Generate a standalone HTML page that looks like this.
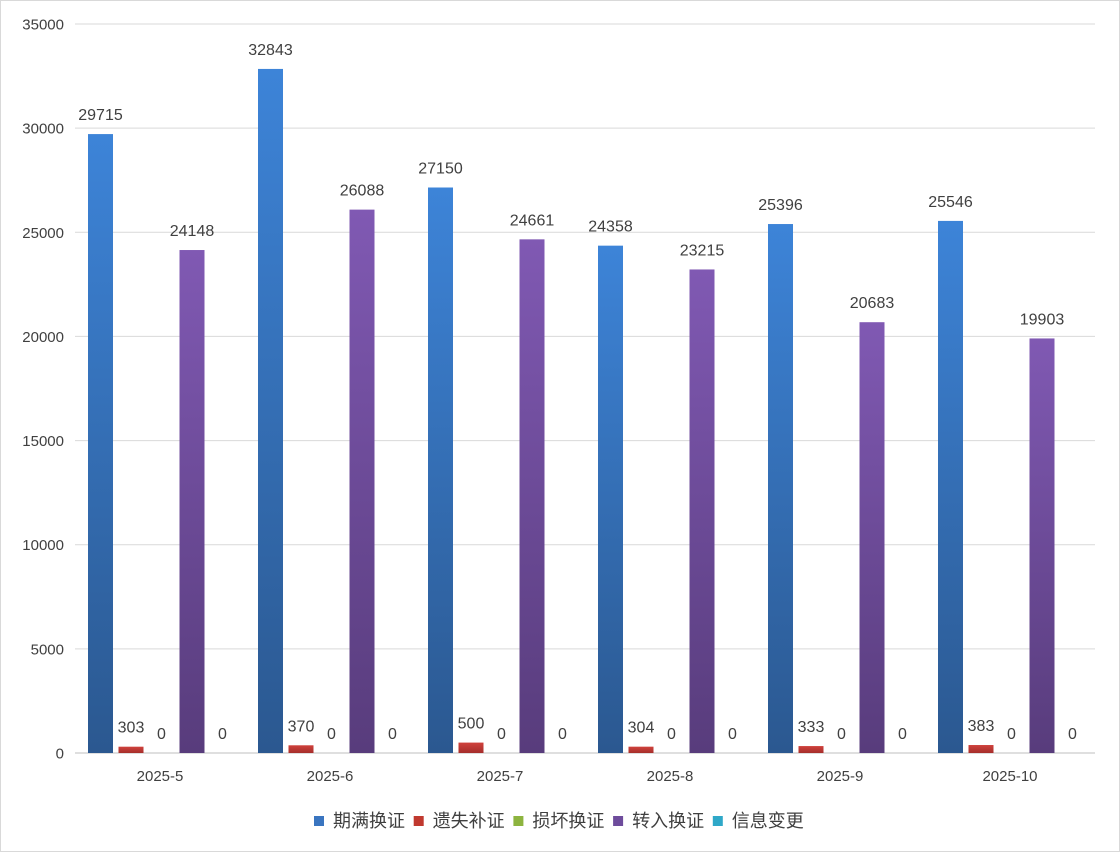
<!DOCTYPE html>
<html><head><meta charset="utf-8"><style>
html,body{margin:0;padding:0;background:#fff;}
svg{display:block;font-family:"Liberation Sans","Noto Sans CJK SC",sans-serif;}
</style></head><body>
<svg id="c" width="1120" height="852" xmlns="http://www.w3.org/2000/svg">
<defs>
<linearGradient id="gb" x1="0" y1="0" x2="0" y2="1"><stop offset="0" stop-color="#3d84d8"/><stop offset="1" stop-color="#2b5890"/></linearGradient>
<linearGradient id="gp" x1="0" y1="0" x2="0" y2="1"><stop offset="0" stop-color="#8059b3"/><stop offset="1" stop-color="#583c7c"/></linearGradient>
<linearGradient id="gr" x1="0" y1="0" x2="0" y2="1"><stop offset="0" stop-color="#d0413c"/><stop offset="1" stop-color="#a52e2b"/></linearGradient>
</defs>
<rect x="0.5" y="0.5" width="1119" height="851" fill="#fff" stroke="#d9d9d9"/>
<g id="g"></g>
</svg>
<script>
var g=document.getElementById('g'),s='';
var y0=753,k=(753-24)/35000;
for(var i=0;i<=7;i++){var y=y0-i*5000*k;
s+='<line x1="75" x2="1095" y1="'+y+'" y2="'+y+'" stroke="'+(i==0?'#bfbfbf':'#d9d9d9')+'" stroke-width="1"/>';
s+='<text x="64" y="'+(y+5.5)+'" text-anchor="end" font-size="15" fill="#404040">'+(i*5000)+'</text>';}
var cats=['2025-5','2025-6','2025-7','2025-8','2025-9','2025-10'];
var d=[[29715,303,0,24148,0],[32843,370,0,26088,0],[27150,500,0,24661,0],[24358,304,0,23215,0],[25396,333,0,20683,0],[25546,383,0,19903,0]];
var fills=['url(#gb)','url(#gr)','#8db43f','url(#gp)','#2fa8c8'];
for(var c=0;c<6;c++){var gx=75+c*170;
s+='<text x="'+(gx+85)+'" y="781" text-anchor="middle" font-size="15" fill="#404040">'+cats[c]+'</text>';
for(var j=0;j<5;j++){var v=d[c][j],x=gx+13+j*30.5,h=v*k;
if(h>0)s+='<rect x="'+x+'" y="'+(y0-h)+'" width="25" height="'+h+'" fill="'+fills[j]+'"/>';
s+='<text x="'+(x+12.5)+'" y="'+(y0-h-14)+'" text-anchor="middle" font-size="16" fill="#404040">'+v+'</text>';}}
var ln=['期满换证','遗失补证','损坏换证','转入换证','信息变更'],lc=['#3a75c0','#c0392f','#8db43f','#6e4c9c','#2fa8c8'];
for(var j=0;j<5;j++){var x=314+j*99.7;
s+='<rect x="'+x+'" y="816" width="10" height="10" fill="'+lc[j]+'"/>';
s+='<text x="'+(x+19)+'" y="827" font-size="18" fill="#404040">'+ln[j]+'</text>';}
g.innerHTML=s;
</script>
</body></html>
